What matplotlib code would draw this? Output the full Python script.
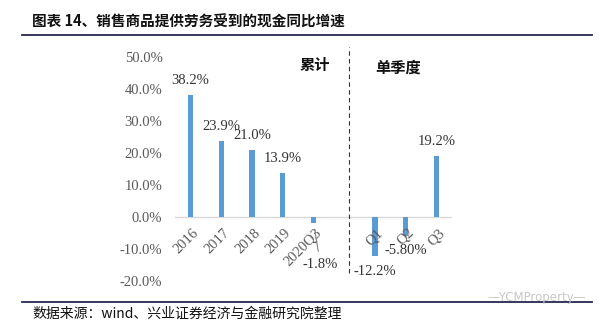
import matplotlib
matplotlib.use("Agg")
import matplotlib.pyplot as plt
import matplotlib.transforms as mtransforms
import numpy as np

categories = ['2016', '2017', '2018', '2019', '2020Q3', '', 'Q1', 'Q2', 'Q3']
values = [38.2, 23.9, 21.0, 13.9, -1.8, np.nan, -12.2, -5.8, 19.2]
value_labels = ['38.2%', '23.9%', '21.0%', '13.9%', '-1.8%', '', '-12.2%', '-5.80%', '19.2%']
yticks = [-20, -10, 0, 10, 20, 30, 40, 50]
title = '图表 14、销售商品提供劳务受到的现金同比增速'
source = '数据来源：wind、兴业证券经济与金融研究院整理'
group_labels = ['累计', '单季度']

W, H = 601, 327
fig = plt.figure(figsize=(W / 100, H / 100), dpi=100)

def fx(px):
    return px / W

def fy(py):
    return 1 - py / H

ax = fig.add_axes([fx(175), fy(281), fx(452) - fx(175), fy(57) - fy(281)])
serif = 'Liberation Serif'
cjk = ['Noto Sans CJK SC', 'DejaVu Sans']
gray = '#595959'
bar_color = '#5b9bd5'

x = np.arange(len(categories))
ax.bar(x, values, width=0.17, color=bar_color, zorder=3)
ax.set_xlim(-0.5, len(categories) - 0.5)
ax.set_ylim(-20, 50)
ax.axhline(0, color='#d9d9d9', lw=1.0, zorder=2)
for s in ax.spines.values():
    s.set_visible(False)

ax.set_yticks(yticks)
ax.set_yticklabels([f'{v:.1f}%' for v in yticks], fontfamily=serif, fontsize=10.5, color=gray)
ax.tick_params(axis='y', length=0, pad=9)
ax.set_xticks([])

# category labels just under the zero line
off = mtransforms.ScaledTranslation(1.5 / 100, -9 / 100, fig.dpi_scale_trans)
for i, c in enumerate(categories):
    if not c:
        continue
    ax.text(i, 0, c, rotation=45, ha='right', va='top', rotation_mode='anchor',
            fontfamily=serif, fontsize=10.5, color=gray,
            transform=ax.transData + off)

for i, (v, t) in enumerate(zip(values, value_labels)):
    if not t or np.isnan(v):
        continue
    if categories[i] == '2020Q3':
        ax.annotate(t, xy=(i, v), xytext=(7, -42), textcoords='offset pixels',
                    ha='center', va='center', fontfamily=serif, fontsize=10.5, color='#333333',
                    arrowprops=dict(arrowstyle='-', color='#7f7f7f', lw=0.8, shrinkA=3, shrinkB=7))
    elif v >= 0:
        ax.annotate(t, xy=(i, v), xytext=(0, 14), textcoords='offset pixels',
                    ha='center', va='center', fontfamily=serif, fontsize=10.5, color='#333333')
    else:
        ax.annotate(t, xy=(i, v), xytext=(0, -15), textcoords='offset pixels',
                    ha='center', va='center', fontfamily=serif, fontsize=10.5, color='#333333')

# divider
ax.plot([5.15, 5.15], [-17.5, 53], color='#333333', lw=0.8, ls=(0, (4, 3)), clip_on=False, zorder=4)

fig.text(fx(315), fy(65), group_labels[0], fontfamily=cjk, fontsize=11, fontweight='bold',
         ha='center', va='center', color='#111111')
fig.text(fx(398), fy(68), group_labels[1], fontfamily=cjk, fontsize=11, fontweight='bold',
         ha='center', va='center', color='#111111')

# title and rules
fig.text(fx(32), fy(22), title, fontfamily=cjk, fontsize=10.5, fontweight='bold',
         ha='left', va='center', color='#111111')
fig.add_artist(plt.Line2D([fx(22), fx(592)], [fy(34.5), fy(34.5)], color='#262650', lw=1.3))
fig.add_artist(plt.Line2D([fx(22), fx(592)], [fy(302), fy(302)], color='#262650', lw=1.3))
fig.text(fx(32), fy(314), source, fontfamily=cjk, fontsize=10,
         ha='left', va='center', color='#111111')
fig.text(fx(586), fy(298), '—YCMProperty—', fontfamily='DejaVu Sans', fontsize=8.5,
         ha='right', va='center', color='#c8c8c8')

fig.savefig('out.png', dpi=100)
